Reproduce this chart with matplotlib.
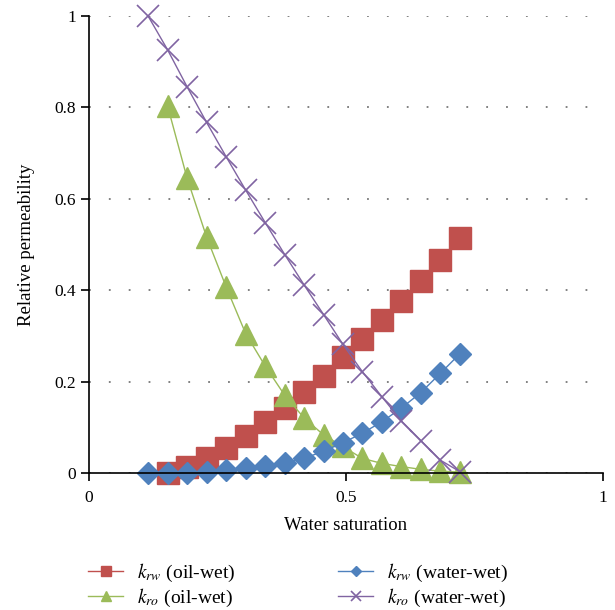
import numpy as np
import matplotlib
matplotlib.use("Agg")
import matplotlib.pyplot as plt

plt.rcParams['font.family'] = ['Liberation Serif', 'DejaVu Serif']
plt.rcParams['mathtext.fontset'] = 'stix'

# Water saturation values
sw = [0.115, 0.153, 0.191, 0.229, 0.267, 0.305, 0.343, 0.381, 0.419,
      0.457, 0.494, 0.532, 0.570, 0.608, 0.646, 0.684, 0.722]

# oil-wet curves start at the second saturation point
sw_oil = sw[1:]
krw_oil = [0.001, 0.014, 0.032, 0.054, 0.081, 0.111, 0.143, 0.177, 0.213,
           0.253, 0.293, 0.335, 0.377, 0.421, 0.466, 0.515]
kro_oil = [0.803, 0.645, 0.516, 0.407, 0.305, 0.234, 0.170, 0.120, 0.083,
           0.058, 0.032, 0.021, 0.014, 0.008, 0.004, 0.002]

krw_water = [0.0, 0.0, 0.001, 0.003, 0.006, 0.010, 0.015, 0.022, 0.032,
             0.048, 0.066, 0.087, 0.112, 0.142, 0.176, 0.218, 0.261]
kro_water = [1.0, 0.926, 0.845, 0.767, 0.692, 0.619, 0.548, 0.478, 0.411,
             0.346, 0.282, 0.222, 0.167, 0.114, 0.071, 0.028, 0.003]

red = '#C0504D'
green = '#9BBB59'
blue = '#4F81BD'
purple = '#8064A2'

fig = plt.figure(figsize=(6.15, 6.10), dpi=100)
ax = fig.add_axes([0.1447, 0.2246, 0.8353, 0.7492])

ax.plot(sw_oil, krw_oil, color=red, marker='s', markersize=16.5, lw=1,
        label=r'$k_{rw}$ (oil-wet)', clip_on=False)
ax.plot(sw_oil, kro_oil, color=green, marker='^', markersize=16, lw=1,
        label=r'$k_{ro}$ (oil-wet)', clip_on=False)
ax.plot(sw, krw_water, color=blue, marker='D', markersize=11, lw=1,
        label=r'$k_{rw}$ (water-wet)', clip_on=False)
ax.plot(sw, kro_water, color=purple, marker='x', markersize=16, mew=1.2,
        lw=1, label=r'$k_{ro}$ (water-wet)', clip_on=False)

ax.set_xlim(0, 1)
ax.set_ylim(0, 1)
ax.set_xticks([0, 0.5, 1])
ax.set_xticklabels(['0', '0.5', '1'])
ax.set_yticks([0, 0.2, 0.4, 0.6, 0.8, 1])
ax.set_yticklabels(['0', '0.2', '0.4', '0.6', '0.8', '1'])
ax.tick_params(labelsize=12.5, length=6, width=1.2, direction='out')
ax.tick_params(axis='x', pad=6)

for s in ['top', 'right']:
    ax.spines[s].set_visible(False)
ax.spines['left'].set_linewidth(1.2)
ax.spines['bottom'].set_linewidth(1.2)
ax.yaxis.grid(True, linestyle=(0, (1, 10)), color='#777777', lw=1.3)
ax.set_axisbelow(True)

ax.set_xlabel('Water saturation', fontsize=13.5, labelpad=8)
ax.set_ylabel('Relative permeability', fontsize=13.5, labelpad=14)

h, l = ax.get_legend_handles_labels()
fig.legend(h, l, loc='lower left', bbox_to_anchor=(0.115, -0.027), ncol=2,
           frameon=False, fontsize=14, markerscale=0.45, handlelength=1.8,
           handletextpad=0.7, columnspacing=5.3, labelspacing=0.15)

fig.savefig('out.png', dpi=100)
